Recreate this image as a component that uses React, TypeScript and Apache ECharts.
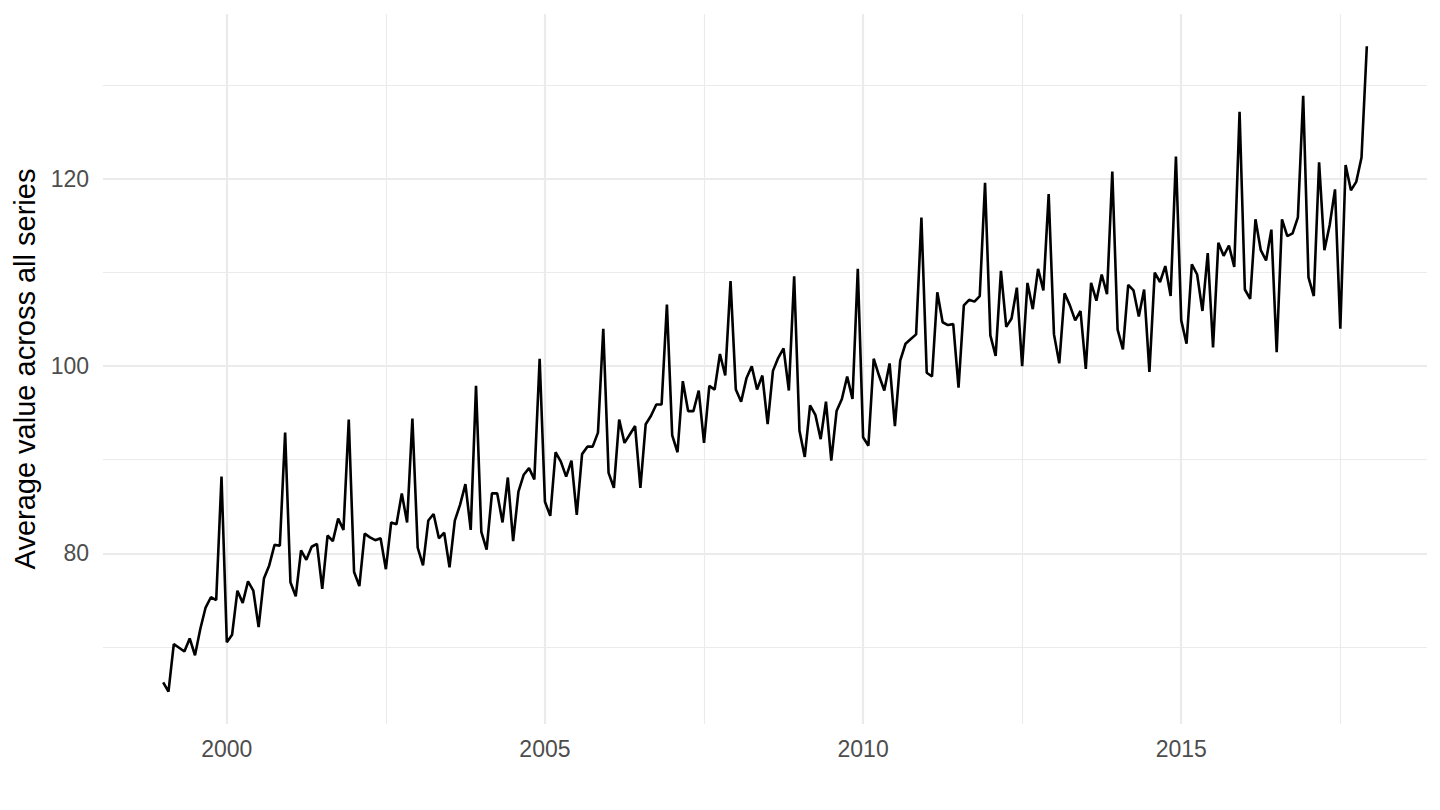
import React, { useEffect, useRef } from "react";
import * as echarts from "echarts";

// Monthly averages, January..December of each year
const v1999 = [66.2, 65.2, 70.3, 69.9, 69.5, 70.9, 69.1, 71.9, 74.2, 75.3, 75.0, 88.2];
const v2000 = [70.5, 71.3, 76.0, 74.7, 77.0, 76.0, 72.1, 77.3, 78.7, 80.9, 80.8, 92.9];
const v2001 = [76.9, 75.4, 80.3, 79.3, 80.7, 81.0, 76.2, 81.9, 81.3, 83.7, 82.5, 94.3];
const v2002 = [78.0, 76.5, 82.1, 81.7, 81.4, 81.6, 78.3, 83.3, 83.1, 86.4, 83.3, 94.4];
const v2003 = [80.6, 78.7, 83.5, 84.2, 81.6, 82.2, 78.5, 83.5, 85.2, 87.4, 82.5, 97.9];
const v2004 = [82.3, 80.4, 86.4, 86.4, 83.3, 88.1, 81.3, 86.6, 88.4, 89.1, 87.9, 100.8];
const v2005 = [85.5, 84.0, 90.8, 89.8, 88.2, 89.9, 84.1, 90.6, 91.4, 91.4, 92.9, 104.0];
const v2006 = [88.6, 87.0, 94.3, 91.8, 92.7, 93.6, 87.0, 93.8, 94.7, 95.9, 95.9, 106.6];
const v2007 = [92.6, 90.8, 98.4, 95.2, 95.2, 97.4, 91.8, 97.9, 97.5, 101.3, 99.0, 109.1];
const v2008 = [97.5, 96.2, 98.7, 100.0, 97.5, 99.0, 93.8, 99.5, 100.9, 101.9, 97.4, 109.6];
const v2009 = [93.1, 90.3, 95.8, 94.8, 92.2, 96.2, 89.9, 95.2, 96.5, 98.9, 96.5, 110.4];
const v2010 = [92.4, 91.5, 100.8, 99.0, 97.4, 100.3, 93.6, 100.6, 102.4, 102.9, 103.4, 115.9];
const v2011 = [99.3, 98.9, 107.9, 104.7, 104.4, 104.5, 97.7, 106.5, 107.1, 106.9, 107.5, 119.6];
const v2012 = [103.3, 101.1, 110.2, 104.2, 105.1, 108.4, 100.0, 108.9, 106.1, 110.4, 108.1, 118.4];
const v2013 = [103.4, 100.3, 107.8, 106.5, 104.9, 105.9, 99.7, 108.9, 107.0, 109.8, 107.7, 120.8];
const v2014 = [103.9, 101.8, 108.7, 108.1, 105.3, 108.2, 99.4, 110.0, 109.0, 110.7, 107.5, 122.4];
const v2015 = [104.9, 102.4, 110.9, 109.8, 105.9, 112.1, 102.0, 113.2, 111.8, 112.9, 110.6, 127.2];
const v2016 = [108.2, 107.2, 115.7, 112.4, 111.3, 114.6, 101.5, 115.7, 113.9, 114.2, 115.9, 128.9];
const v2017 = [109.5, 107.5, 121.8, 112.4, 115.1, 118.9, 104.0, 121.5, 118.8, 119.7, 122.3, 134.2];

const firstYear = 1999;
const yearly = [
  v1999, v2000, v2001, v2002, v2003, v2004, v2005, v2006, v2007, v2008,
  v2009, v2010, v2011, v2012, v2013, v2014, v2015, v2016, v2017,
];

const xMajorTicks = [2000, 2005, 2010, 2015];
const xMinorTicks = [2002.5, 2007.5, 2012.5, 2017.5];
const yMajorTicks = [80, 100, 120];
const yMinorTicks = [70, 90, 110, 130];

const yTitle = "Average value across all series";

export default function App() {
  const ref = useRef<HTMLDivElement>(null);

  useEffect(() => {
    document.body.style.margin = "0";
    if (!ref.current) return;
    const chart = echarts.init(ref.current, null, { renderer: "svg" });

    const points: [number, number][] = [];
    yearly.forEach((arr, yi) => {
      arr.forEach((v, m) => {
        points.push([firstYear + yi + m / 12, v]);
      });
    });
    const xs = points.map((p) => p[0]);
    const ys = points.map((p) => p[1]);
    const xMinD = Math.min(...xs);
    const xMaxD = Math.max(...xs);
    const yMinD = Math.min(...ys);
    const yMaxD = Math.max(...ys);
    const xPad = (xMaxD - xMinD) * 0.05;
    const yPad = (yMaxD - yMinD) * 0.05;

    const font = "'Liberation Sans', Arial, Helvetica, sans-serif";
    const gridColor = "#EBEBEB";

    const gridLines = [
      ...xMajorTicks.map((x) => ({ xAxis: x, lineStyle: { width: 2.2, color: gridColor, type: "solid" } })),
      ...xMinorTicks.map((x) => ({ xAxis: x, lineStyle: { width: 1.1, color: gridColor, type: "solid" } })),
      ...yMajorTicks.map((y) => ({ yAxis: y, lineStyle: { width: 2.2, color: gridColor, type: "solid" } })),
      ...yMinorTicks.map((y) => ({ yAxis: y, lineStyle: { width: 1.1, color: gridColor, type: "solid" } })),
    ];

    chart.setOption({
      animation: false,
      backgroundColor: "#FFFFFF",
      grid: { left: 103, right: 13, top: 14, bottom: 86, containLabel: false },
      xAxis: {
        type: "value",
        min: xMinD - xPad,
        max: xMaxD + xPad,
        axisLine: { show: false },
        axisTick: { show: false },
        splitLine: { show: false },
        axisLabel: {
          customValues: xMajorTicks,
          formatter: (v: number) => String(Math.round(v)),
          color: "#4D4D4D",
          fontSize: 23,
          fontFamily: font,
          margin: 13,
        },
      },
      yAxis: {
        type: "value",
        min: yMinD - yPad,
        max: yMaxD + yPad,
        name: yTitle,
        nameLocation: "middle",
        nameRotate: 90,
        nameGap: 62,
        nameTextStyle: { color: "#000000", fontSize: 29, fontFamily: font },
        axisLine: { show: false },
        axisTick: { show: false },
        splitLine: { show: false },
        axisLabel: {
          customValues: yMajorTicks,
          formatter: (v: number) => String(Math.round(v)),
          color: "#4D4D4D",
          fontSize: 23,
          fontFamily: font,
          margin: 14,
        },
      },
      series: [
        {
          type: "line",
          data: points,
          showSymbol: false,
          symbol: "none",
          z: 3,
          lineStyle: { color: "#000000", width: 2.6 },
          markLine: {
            z: 1,
            silent: true,
            symbol: ["none", "none"],
            label: { show: false },
            animation: false,
            data: gridLines,
          },
        },
      ],
    });

    return () => chart.dispose();
  }, []);

  return (
    <div
      ref={ref}
      style={{ position: "absolute", left: 0, top: 0, width: 1440, height: 810 }}
    />
  );
}
